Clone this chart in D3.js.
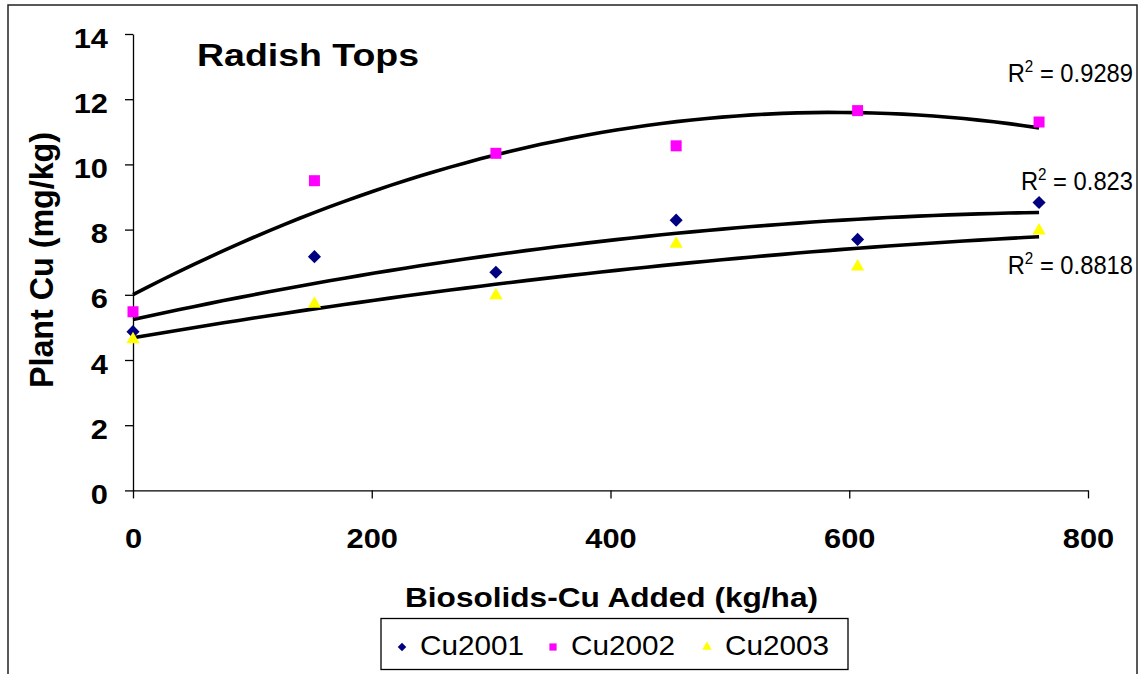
<!DOCTYPE html>
<html>
<head>
<meta charset="utf-8">
<script src="https://cdn.jsdelivr.net/npm/d3@7"></script>
<style>
body { margin: 0; background: #fff; }
text { font-family: Arial, "Liberation Sans", sans-serif; fill: #000; }
</style>
</head>
<body>
<svg id="chart" width="1143" height="674"></svg>
<script>
// biosolids Cu added (kg/ha)
var cuAdded = [0, 152, 304, 455, 607, 759];
// plant Cu (mg/kg) per year
var cu2001 = [4.87, 7.17, 6.69, 8.29, 7.70, 8.83];
var cu2002 = [5.48, 9.50, 10.34, 10.57, 11.65, 11.30];
var cu2003 = [4.63, 5.72, 5.98, 7.56, 6.86, 7.97];
var seriesNames = ["Cu2001", "Cu2002", "Cu2003"];
var rSquared = ["0.823", "0.9289", "0.8818"];
var xTicks = [0, 200, 400, 600, 800];
var yTicks = [0, 2, 4, 6, 8, 10, 12, 14];

var seriesValues = [cu2001, cu2002, cu2003];
var colors = ["#000080", "#ff00ff", "#ffff00"];
var SX = 1.1; // the original picture is a bit stretched sideways

var svg = d3.select("#chart");
var margin = {left: 133, right: 1088, top: 34, bottom: 490.4};

var x = d3.scaleLinear().domain([0, 800]).range([margin.left, margin.right]);
var y = d3.scaleLinear().domain([0, 14]).range([margin.bottom, margin.top]);

// outer chart frame (bottom edge is off the picture)
svg.append("rect")
    .attr("x", 8).attr("y", 5)
    .attr("width", 1129).attr("height", 720)
    .attr("fill", "none").attr("stroke", "#222").attr("stroke-width", 1.5);

// polynomial (order 2) trendline, least squares like excel does it
function polyFit2(xs, ys) {
    var s = [0, 0, 0, 0, 0], t = [0, 0, 0];
    for (var i = 0; i < xs.length; i++) {
        var u = xs[i] / 100, p = 1;
        for (var k = 0; k < 5; k++) {
            s[k] += p;
            if (k < 3) t[k] += p * ys[i];
            p *= u;
        }
    }
    var m = [[s[0], s[1], s[2], t[0]], [s[1], s[2], s[3], t[1]], [s[2], s[3], s[4], t[2]]];
    for (var c = 0; c < 3; c++) {
        for (var r = c + 1; r < 3; r++) {
            var f = m[r][c] / m[c][c];
            for (var j = c; j < 4; j++) m[r][j] -= f * m[c][j];
        }
    }
    var coef = [0, 0, 0];
    for (var r2 = 2; r2 >= 0; r2--) {
        var v = m[r2][3];
        for (var j2 = r2 + 1; j2 < 3; j2++) v -= m[r2][j2] * coef[j2];
        coef[r2] = v / m[r2][r2];
    }
    return function(xv) { var u = xv / 100; return coef[0] + coef[1] * u + coef[2] * u * u; };
}

// axes
var yAxis = svg.append("g")
    .attr("transform", "translate(" + margin.left + ",0)")
    .call(d3.axisLeft(y).tickValues(yTicks).tickSize(8).tickSizeOuter(0));
yAxis.select(".domain").attr("stroke", "#000").attr("stroke-width", 1.3);
yAxis.selectAll(".tick line").attr("stroke", "#000").attr("stroke-width", 1.3);
yAxis.selectAll(".tick text")
    .attr("x", null).attr("dy", null)
    .attr("transform", "translate(-25,13) scale(" + SX + ",1)")
    .style("font-size", "28px").style("font-weight", "bold")
    .attr("fill", "#000");

var xAxis = svg.append("g")
    .attr("transform", "translate(0," + margin.bottom + ")")
    .call(d3.axisBottom(x).tickValues(xTicks).tickSize(8).tickSizeOuter(0));
xAxis.select(".domain").attr("stroke", "#000").attr("stroke-width", 1.3);
xAxis.selectAll(".tick line").attr("stroke", "#000").attr("stroke-width", 1.3);
xAxis.selectAll(".tick text")
    .attr("y", null).attr("dy", null)
    .attr("transform", "translate(0,58) scale(" + SX + ",1)")
    .style("font-size", "28px").style("font-weight", "bold")
    .attr("fill", "#000");

// titles
svg.append("text")
    .attr("x", 197).attr("y", 66)
    .attr("textLength", 222).attr("lengthAdjust", "spacingAndGlyphs")
    .style("font-size", "31px").style("font-weight", "bold")
    .text("Radish Tops");

svg.append("text")
    .attr("x", 611.5).attr("y", 607)
    .attr("text-anchor", "middle")
    .attr("textLength", 413).attr("lengthAdjust", "spacingAndGlyphs")
    .style("font-size", "28px").style("font-weight", "bold")
    .text("Biosolids-Cu Added (kg/ha)");

svg.append("text")
    .attr("transform", "translate(53,260) scale(" + SX + ",1) rotate(-90)")
    .attr("text-anchor", "middle")
    .attr("textLength", 256).attr("lengthAdjust", "spacingAndGlyphs")
    .style("font-size", "30px").style("font-weight", "bold")
    .text("Plant Cu (mg/kg)");

// trendlines
var line = d3.line().x(function(d) { return x(d[0]); }).y(function(d) { return y(d[1]); });
var labelDy = [-22, -46, 37];
var xMax = d3.max(cuAdded);
seriesValues.forEach(function(vals, i) {
    var fit = polyFit2(cuAdded, vals);
    var pts = d3.range(0, xMax + 0.1, xMax / 60).map(function(xv) { return [xv, fit(xv)]; });
    svg.append("path")
        .attr("d", line(pts))
        .attr("fill", "none").attr("stroke", "#000").attr("stroke-width", 3.6);

    var lab = svg.append("text")
        .attr("text-anchor", "end")
        .attr("transform", "translate(1133," + (y(fit(xMax)) + labelDy[i]) + ") scale(0.95,1)")
        .style("font-size", "25px");
    lab.append("tspan").text("R");
    lab.append("tspan").attr("dy", -10).style("font-size", "16px").text("2");
    lab.append("tspan").attr("dy", 10).text(" = " + rSquared[i]);
});

// markers
function markerPath(i, big) {
    if (i === 0) return d3.symbol(d3.symbolSquare, big ? 86 : 36)();
    if (i === 1) return d3.symbol(d3.symbolSquare, big ? 121 : 52)();
    return d3.symbol(d3.symbolTriangle, big ? 76 : 40)();
}
function markerTransform(i) { return i === 0 ? " rotate(45)" : ""; }

seriesValues.forEach(function(vals, i) {
    svg.append("g").selectAll("path")
        .data(vals)
        .enter()
        .append("path")
        .attr("d", markerPath(i, true))
        .attr("transform", function(d, k) { return "translate(" + x(cuAdded[k]) + "," + y(d) + ")" + markerTransform(i); })
        .attr("fill", colors[i]);
});

// legend
svg.append("rect")
    .attr("x", 381).attr("y", 618.5)
    .attr("width", 467).attr("height", 51)
    .attr("fill", "#fff").attr("stroke", "#000").attr("stroke-width", 1.3);

var legendX = [402, 553, 707];
seriesNames.forEach(function(name, i) {
    svg.append("path")
        .attr("d", markerPath(i, false))
        .attr("transform", "translate(" + legendX[i] + ",647)" + markerTransform(i))
        .attr("fill", colors[i]);
    svg.append("text")
        .attr("transform", "translate(" + (legendX[i] + 18) + ",655) scale(" + SX + ",1)")
        .style("font-size", "27px")
        .text(name);
});
</script>
</body>
</html>
